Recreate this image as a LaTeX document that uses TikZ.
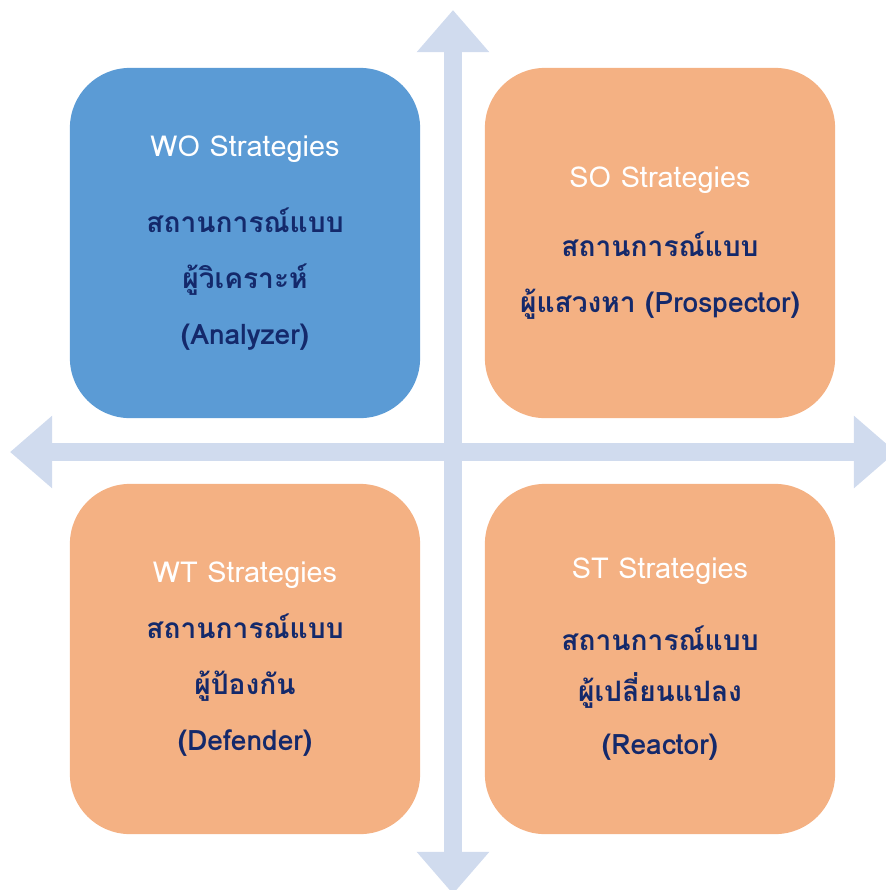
\documentclass[tikz,border=0pt]{standalone}
\usepackage{fontspec}
\setmainfont[Script=Thai]{Loma}
\usetikzlibrary{arrows.meta}

\definecolor{woblue}{HTML}{5B9BD5}
\definecolor{peach}{HTML}{F4B183}
\definecolor{axisgray}{HTML}{D0DBEE}
\definecolor{navy}{HTML}{14296B}

\newcommand{\quadtitle}[1]{\textcolor{white}{\mdseries\fontsize{8.2}{16}\selectfont #1}}

\begin{document}
\begin{tikzpicture}[
    x=0.01cm, y=-0.01cm,
    quad/.style={rectangle, rounded corners=0.6cm, minimum width=3.5cm, minimum height=3.5cm,
        inner sep=0pt, align=center, text=navy, font=\bfseries\fontsize{8}{16}\selectfont},
    axis/.style={draw=axisgray, line width=5.2pt,
        {Triangle[width=19.9pt,length=12pt]}-{Triangle[width=19.9pt,length=12pt]}}
]
    \useasboundingbox (0,0) rectangle (886,890);

    % axes
    \coordinate (top) at (453,10);
    \coordinate (bottom) at (453,894);
    \coordinate (left) at (10,452);
    \coordinate (right) at (896,452);
    \draw[axis] (top) -- (bottom);
    \draw[axis] (left) -- (right);

    % upper left
    \node[quad, fill=woblue] (wo) at (245,243) {
        \quadtitle{WO Strategies}\\[5.6pt]
        สถานการณ์แบบ\\
        ผู้วิเคราะห์\\
        (Analyzer)
    };

    % upper right
    \node[quad, fill=peach] (so) at (660,243) {
        \quadtitle{SO Strategies}\\[3.6pt]
        สถานการณ์แบบ\\
        ผู้แสวงหา (Prospector)
    };

    % lower left
    \node[quad, fill=peach] (wt) at (245,659) {
        \quadtitle{WT Strategies}\\[0pt]
        สถานการณ์แบบ\\
        ผู้ป้องกัน\\
        (Defender)
    };

    % lower right
    \node[quad, fill=peach] (st) at (660,659) {
        \quadtitle{ST Strategies}\\[4.5pt]
        สถานการณ์แบบ\\[-1.5pt]
        ผู้เปลี่ยนแปลง\\[-1pt]
        (Reactor)
    };

\end{tikzpicture}
\end{document}
